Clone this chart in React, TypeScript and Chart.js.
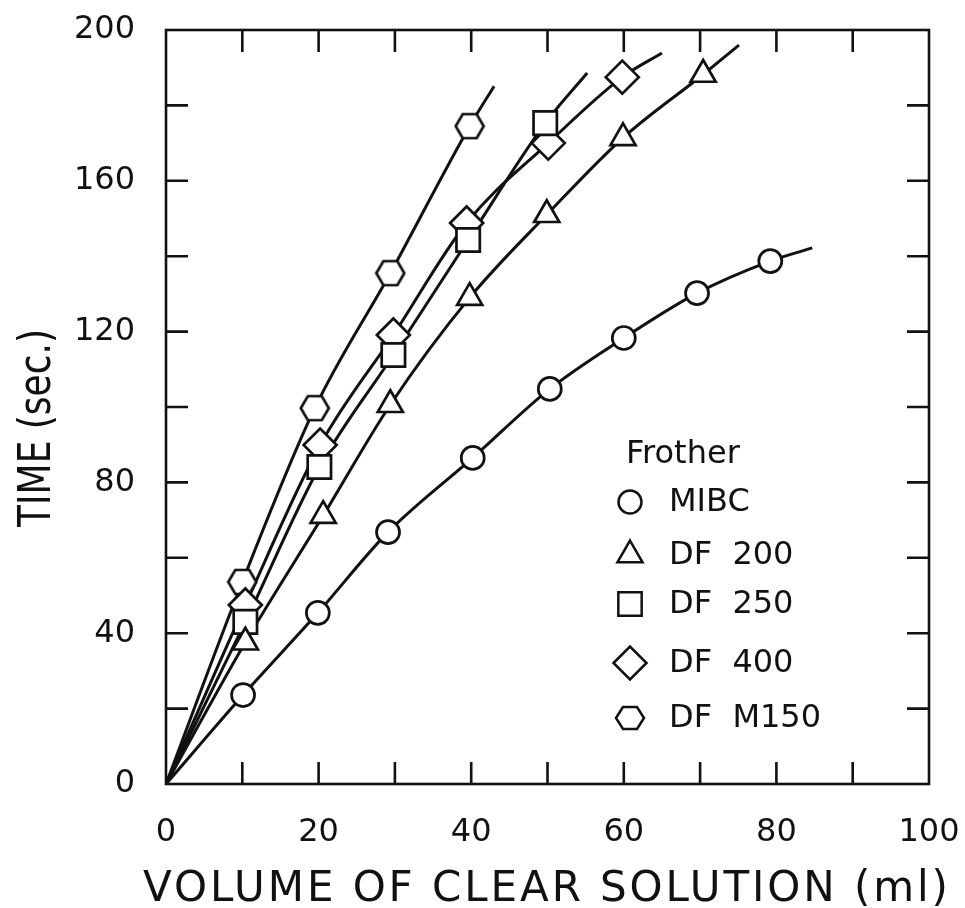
import React, { useEffect, useRef } from 'react';
import { Chart, registerables } from 'chart.js';

Chart.register(...registerables);

// ---- Data ----
const ORIGIN = [0, 0];

const MIBC_X = [10.1, 19.9, 29.1, 40.2, 50.3, 60.0, 69.6, 79.2];
const MIBC_Y = [23.6, 45.4, 66.8, 86.5, 104.8, 118.3, 130.2, 138.7];
const MIBC_CURVE_END = [84.7, 142.2];

const DF200_X = [10.4, 20.6, 29.4, 39.8, 49.9, 59.9, 70.4];
const DF200_Y = [37.6, 71.2, 100.6, 129.0, 151.0, 171.4, 188.2];
const DF200_CURVE_END = [75.1, 196.0];

const DF250_X = [10.4, 20.1, 29.8, 39.6, 49.7];
const DF250_Y = [43.0, 84.1, 113.8, 144.3, 175.3];
const DF250_CURVE_END = [55.2, 188.6];

const DF400_X = [10.4, 20.2, 29.8, 39.4, 50.1, 59.8];
const DF400_Y = [47.5, 89.9, 119.1, 148.8, 170.0, 187.5];
const DF400_CURVE_END = [65.0, 193.9];

const DFM150_X = [10.0, 19.5, 29.4, 39.8];
const DFM150_Y = [53.6, 99.7, 135.5, 174.5];
const DFM150_CURVE_END = [43.0, 185.1];

const SERIES_NAMES = ['MIBC', 'DF 200', 'DF 250', 'DF 400', 'DF M150'];
const LEGEND_TITLE = 'Frother';
const X_TITLE = 'VOLUME OF CLEAR SOLUTION (ml)';
const Y_TITLE = 'TIME (sec.)';

const X_RANGE = [0, 100];
const X_TICK_STEP = 10;
const X_LABEL_STEP = 20;
const Y_RANGE = [0, 200];
const Y_TICK_STEP = 20;
const Y_LABEL_STEP = 40;

// ---- Helpers ----
const FONT = '"DejaVu Sans", "Liberation Sans", sans-serif';
const INK = '#111';

type Shape = 'circle' | 'triangle' | 'rect' | 'rectRot' | 'hexagon';
const SHAPES: Shape[] = ['circle', 'triangle', 'rect', 'rectRot', 'hexagon'];
const RADII = [11.5, 14.5, 16.5, 16.5, 0];

const toPoints = (xs: number[], ys: number[]) => xs.map((x, i) => ({ x, y: ys[i] }));

function hexPath(ctx: CanvasRenderingContext2D, cx: number, cy: number, rx: number, ry: number) {
  ctx.beginPath();
  ctx.moveTo(cx - rx, cy);
  ctx.lineTo(cx - rx / 2, cy - ry);
  ctx.lineTo(cx + rx / 2, cy - ry);
  ctx.lineTo(cx + rx, cy);
  ctx.lineTo(cx + rx / 2, cy + ry);
  ctx.lineTo(cx - rx / 2, cy + ry);
  ctx.closePath();
}

function makeHexagon(): HTMLCanvasElement {
  const c = document.createElement('canvas');
  c.width = 32;
  c.height = 28;
  const ctx = c.getContext('2d')!;
  hexPath(ctx, 16, 14, 14, 12);
  ctx.fillStyle = '#fff';
  ctx.fill();
  ctx.lineWidth = 2.7;
  ctx.strokeStyle = INK;
  ctx.stroke();
  return c;
}

function drawMarker(ctx: CanvasRenderingContext2D, shape: Shape, x: number, y: number, r: number) {
  ctx.beginPath();
  if (shape === 'circle') {
    ctx.arc(x, y, r, 0, Math.PI * 2);
  } else if (shape === 'triangle') {
    ctx.moveTo(x, y - r);
    ctx.lineTo(x + r * Math.sin((2 * Math.PI) / 3), y - r * Math.cos((2 * Math.PI) / 3));
    ctx.lineTo(x + r * Math.sin((4 * Math.PI) / 3), y - r * Math.cos((4 * Math.PI) / 3));
    ctx.closePath();
  } else if (shape === 'rect') {
    const s = Math.SQRT1_2 * r;
    ctx.rect(x - s, y - s, 2 * s, 2 * s);
  } else if (shape === 'rectRot') {
    ctx.moveTo(x - r, y);
    ctx.lineTo(x, y - r);
    ctx.lineTo(x + r, y);
    ctx.lineTo(x, y + r);
    ctx.closePath();
  } else {
    hexPath(ctx, x, y, 14, 11);
  }
  ctx.fillStyle = '#fff';
  ctx.fill();
  ctx.lineWidth = 2.5;
  ctx.strokeStyle = INK;
  ctx.stroke();
}

const frameAndTicks = {
  id: 'frameAndTicks',
  beforeDatasetsDraw(chart: any) {
    const { ctx, chartArea: a, scales } = chart;
    const TL = 22;
    ctx.save();
    ctx.strokeStyle = INK;
    ctx.lineWidth = 2.6;
    ctx.strokeRect(a.left, a.top, a.right - a.left, a.bottom - a.top);
    ctx.beginPath();
    for (const t of scales.x.ticks) {
      if (t.value <= X_RANGE[0] || t.value >= X_RANGE[1]) continue;
      const px = scales.x.getPixelForValue(t.value);
      ctx.moveTo(px, a.bottom);
      ctx.lineTo(px, a.bottom - TL);
      ctx.moveTo(px, a.top);
      ctx.lineTo(px, a.top + TL);
    }
    for (const t of scales.y.ticks) {
      if (t.value <= Y_RANGE[0] || t.value >= Y_RANGE[1]) continue;
      const py = scales.y.getPixelForValue(t.value);
      ctx.moveTo(a.left, py);
      ctx.lineTo(a.left + TL, py);
      ctx.moveTo(a.right, py);
      ctx.lineTo(a.right - TL, py);
    }
    ctx.stroke();
    ctx.restore();
  },
};

const axisTitles = {
  id: 'axisTitles',
  afterDraw(chart: any) {
    const { ctx } = chart;
    ctx.save();
    ctx.fillStyle = INK;
    // x title
    ctx.font = `42px ${FONT}`;
    ctx.textAlign = 'left';
    ctx.textBaseline = 'alphabetic';
    const w0 = ctx.measureText(X_TITLE).width;
    const target = 805;
    const ls = (target - w0) / (X_TITLE.length - 1);
    (ctx as any).letterSpacing = `${ls}px`;
    ctx.fillText(X_TITLE, 143, 901);
    (ctx as any).letterSpacing = '0px';
    // y title
    ctx.font = `44px ${FONT}`;
    const wy = ctx.measureText(Y_TITLE).width;
    ctx.translate(50, 428);
    ctx.rotate(-Math.PI / 2);
    ctx.scale(198 / wy, 1);
    ctx.textAlign = 'center';
    ctx.fillText(Y_TITLE, 0, 0);
    ctx.restore();
  },
};

const legendPlugin = {
  id: 'frotherLegend',
  afterDraw(chart: any) {
    const { ctx } = chart;
    const rows = [502, 555, 604, 663, 718];
    ctx.save();
    ctx.fillStyle = INK;
    ctx.font = `32px ${FONT}`;
    ctx.textAlign = 'left';
    ctx.textBaseline = 'alphabetic';
    ctx.fillText(LEGEND_TITLE, 626, 463);
    SERIES_NAMES.forEach((name, i) => {
      drawMarker(ctx, SHAPES[i], 630, rows[i], RADII[i]);
      ctx.fillStyle = INK;
      ctx.textBaseline = 'middle';
      ctx.fillText(name.split(' ').join('  '), 669, rows[i] + 1);
    });
    ctx.restore();
  },
};

export default function App() {
  const ref = useRef<HTMLCanvasElement>(null);

  useEffect(() => {
    document.body.style.margin = '0';
    const hex = makeHexagon();
    const series = [
      { x: MIBC_X, y: MIBC_Y, end: MIBC_CURVE_END },
      { x: DF200_X, y: DF200_Y, end: DF200_CURVE_END },
      { x: DF250_X, y: DF250_Y, end: DF250_CURVE_END },
      { x: DF400_X, y: DF400_Y, end: DF400_CURVE_END },
      { x: DFM150_X, y: DFM150_Y, end: DFM150_CURVE_END },
    ];

    const lineSets = series.map((s, i) => ({
      label: SERIES_NAMES[i] + ' curve',
      data: [
        { x: ORIGIN[0], y: ORIGIN[1] },
        ...toPoints(s.x, s.y),
        { x: s.end[0], y: s.end[1] },
      ],
      showLine: true,
      borderColor: INK,
      borderWidth: 3,
      pointRadius: 0,
      cubicInterpolationMode: 'monotone' as const,
      fill: false,
      order: 2,
    }));

    const markerSets = series.map((s, i) => ({
      label: SERIES_NAMES[i],
      data: toPoints(s.x, s.y),
      showLine: false,
      pointStyle: SHAPES[i] === 'hexagon' ? hex : SHAPES[i],
      pointRadius: SHAPES[i] === 'hexagon' ? 14 : RADII[i],
      pointBackgroundColor: '#fff',
      pointBorderColor: INK,
      pointBorderWidth: 2.7,
      order: 1,
    }));

    const chart = new Chart(ref.current!, {
      type: 'scatter',
      data: { datasets: [...markerSets, ...lineSets] as any },
      options: {
        responsive: false,
        animation: false,
        devicePixelRatio: 1,
        events: [],
        layout: { padding: { top: 30, right: 36, left: 0, bottom: 0 } },
        plugins: { legend: { display: false }, tooltip: { enabled: false } },
        scales: {
          x: {
            type: 'linear',
            min: X_RANGE[0],
            max: X_RANGE[1],
            grid: { display: false, drawTicks: false },
            border: { display: false },
            ticks: {
              stepSize: X_TICK_STEP,
              autoSkip: false,
              maxRotation: 0,
              padding: 29,
              color: INK,
              font: { family: FONT, size: 32 },
              callback: (v: any) => (Number(v) % X_LABEL_STEP === 0 ? String(v) : ''),
            },
            afterFit: (scale: any) => {
              scale.height = 124;
              scale.paddingLeft = 0;
              scale.paddingRight = 0;
            },
          },
          y: {
            type: 'linear',
            min: Y_RANGE[0],
            max: Y_RANGE[1],
            grid: { display: false, drawTicks: false },
            border: { display: false },
            ticks: {
              stepSize: Y_TICK_STEP,
              autoSkip: false,
              padding: 31,
              color: INK,
              font: { family: FONT, size: 32 },
              callback: (v: any) => (Number(v) % Y_LABEL_STEP === 0 ? String(v) : ''),
            },
            afterFit: (scale: any) => {
              scale.width = 166;
              scale.paddingTop = 0;
              scale.paddingBottom = 0;
            },
          },
        },
      },
      plugins: [frameAndTicks, axisTitles, legendPlugin],
    });

    return () => chart.destroy();
  }, []);

  return (
    <div style={{ width: 965, height: 908, background: '#fff' }}>
      <canvas ref={ref} width={965} height={908} style={{ display: 'block' }} />
    </div>
  );
}
